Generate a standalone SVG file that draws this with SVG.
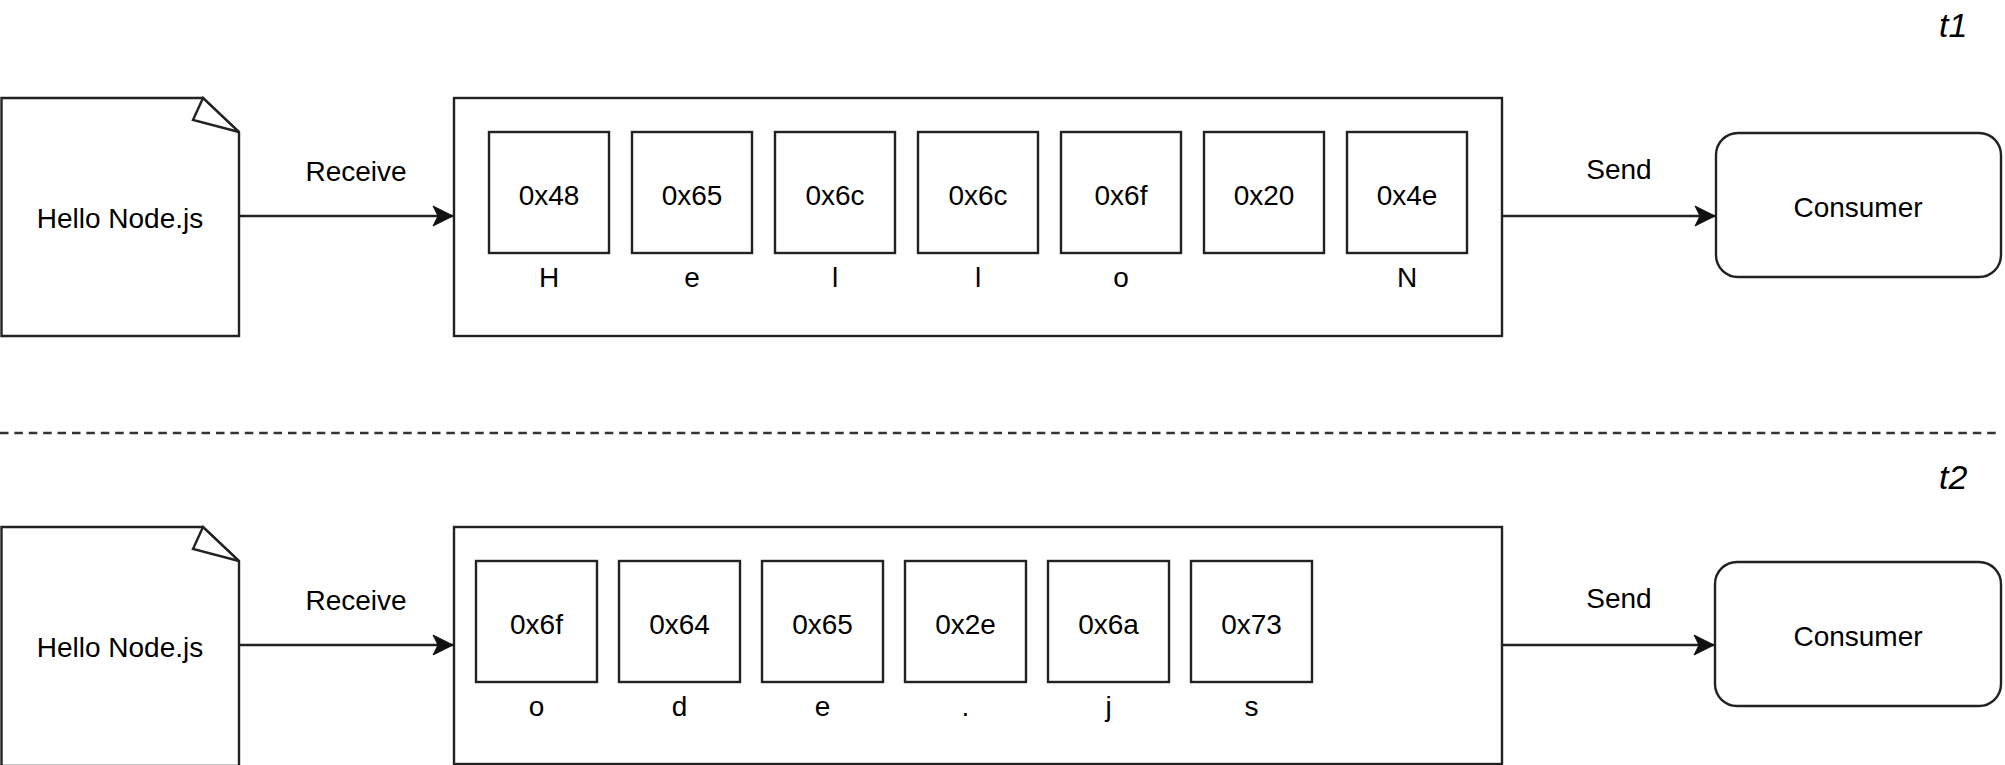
<svg xmlns="http://www.w3.org/2000/svg" width="2005" height="765" viewBox="0 0 2005 765">
<defs>
<style>
.s{fill:#fff;stroke:#222;stroke-width:2.4}
.f{fill:none;stroke:#222;stroke-width:2.4;stroke-linejoin:miter}
.t{font-family:"Liberation Sans",Arial,Helvetica,sans-serif;font-size:28px;fill:#000;text-anchor:middle}
.ti{font-family:"Liberation Sans",Arial,Helvetica,sans-serif;font-size:34px;font-style:italic;fill:#000}
.e{fill:none;stroke:#222;stroke-width:2.4}
</style>
<marker id="ah" markerUnits="userSpaceOnUse" markerWidth="24" markerHeight="24" viewBox="-22 -12 24 24" refX="0" refY="0" orient="auto">
<path d="M0,0 L-20,-10 L-15,0 L-20,10 Z" fill="#111" stroke="#111" stroke-width="1"/>
</marker>
</defs>
<rect width="2005" height="765" fill="#fff"/>

<text class="ti" x="1939" y="37">t1</text>
<text class="ti" x="1939" y="489">t2</text>
<line x1="0" y1="433" x2="1996" y2="433" stroke="#333" stroke-width="2.4" stroke-dasharray="8.5 5.9"/>

<g id="connectors">
<line class="e" x1="238" y1="216" x2="453" y2="216" marker-end="url(#ah)"/>
<line class="e" x1="1502" y1="216" x2="1715" y2="216" marker-end="url(#ah)"/>
<line class="e" x1="238" y1="645" x2="453" y2="645" marker-end="url(#ah)"/>
<line class="e" x1="1502" y1="645" x2="1714" y2="645" marker-end="url(#ah)"/>
<text class="t" x="356" y="181">Receive</text>
<text class="t" x="1619" y="179">Send</text>
<text class="t" x="356" y="610">Receive</text>
<text class="t" x="1619" y="608">Send</text>
</g>

<g id="doc1">
<path class="s" d="M1.5,98 H203 L239,132 V336 H1.5 Z"/>
<polygon class="f" points="203,98 193,120 239,132"/>
<text class="t" x="120" y="228">Hello Node.js</text>
</g>

<g id="buffer1">
<rect class="s" x="454" y="98" width="1048" height="238"/>
</g>
<g id="b1c1"><rect class="s" x="489" y="132" width="120" height="121"/><text class="t" x="549" y="205">0x48</text><text class="t" x="549" y="287">H</text></g>
<g id="b1c2"><rect class="s" x="632" y="132" width="120" height="121"/><text class="t" x="692" y="205">0x65</text><text class="t" x="692" y="287">e</text></g>
<g id="b1c3"><rect class="s" x="775" y="132" width="120" height="121"/><text class="t" x="835" y="205">0x6c</text><text class="t" x="835" y="287">l</text></g>
<g id="b1c4"><rect class="s" x="918" y="132" width="120" height="121"/><text class="t" x="978" y="205">0x6c</text><text class="t" x="978" y="287">l</text></g>
<g id="b1c5"><rect class="s" x="1061" y="132" width="120" height="121"/><text class="t" x="1121" y="205">0x6f</text><text class="t" x="1121" y="287">o</text></g>
<g id="b1c6"><rect class="s" x="1204" y="132" width="120" height="121"/><text class="t" x="1264" y="205">0x20</text></g>
<g id="b1c7"><rect class="s" x="1347" y="132" width="120" height="121"/><text class="t" x="1407" y="205">0x4e</text><text class="t" x="1407" y="287">N</text></g>

<g id="consumer1">
<rect class="s" x="1716" y="133" width="285" height="144" rx="22" ry="22"/>
<text class="t" x="1858" y="217">Consumer</text>
</g>

<g id="doc2">
<path class="s" d="M1.5,527 H203 L239,561 V766 H1.5 Z"/>
<polygon class="f" points="203,527 193,549 239,561"/>
<text class="t" x="120" y="657">Hello Node.js</text>
</g>

<g id="buffer2">
<rect class="s" x="454" y="527" width="1048" height="237"/>
</g>
<g id="b2c1"><rect class="s" x="476" y="561" width="121" height="121"/><text class="t" x="536.5" y="634">0x6f</text><text class="t" x="536.5" y="716">o</text></g>
<g id="b2c2"><rect class="s" x="619" y="561" width="121" height="121"/><text class="t" x="679.5" y="634">0x64</text><text class="t" x="679.5" y="716">d</text></g>
<g id="b2c3"><rect class="s" x="762" y="561" width="121" height="121"/><text class="t" x="822.5" y="634">0x65</text><text class="t" x="822.5" y="716">e</text></g>
<g id="b2c4"><rect class="s" x="905" y="561" width="121" height="121"/><text class="t" x="965.5" y="634">0x2e</text><text class="t" x="965.5" y="716">.</text></g>
<g id="b2c5"><rect class="s" x="1048" y="561" width="121" height="121"/><text class="t" x="1108.5" y="634">0x6a</text><text class="t" x="1108.5" y="716">j</text></g>
<g id="b2c6"><rect class="s" x="1191" y="561" width="121" height="121"/><text class="t" x="1251.5" y="634">0x73</text><text class="t" x="1251.5" y="716">s</text></g>

<g id="consumer2">
<rect class="s" x="1715" y="562" width="286" height="144" rx="22" ry="22"/>
<text class="t" x="1858" y="646">Consumer</text>
</g>
</svg>
